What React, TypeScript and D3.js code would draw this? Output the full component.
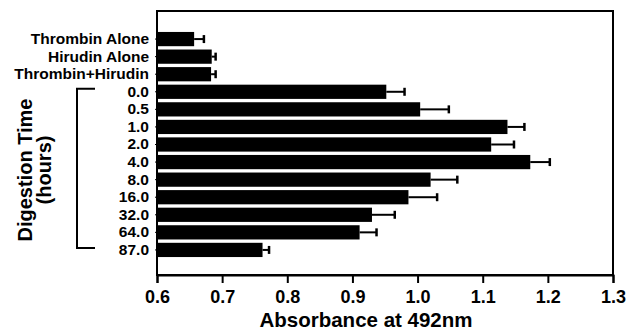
import React, { useEffect, useRef } from 'react';
import * as d3 from 'd3';

const categories = ['Thrombin Alone', 'Hirudin Alone', 'Thrombin+Hirudin', '0.0', '0.5', '1.0', '2.0', '4.0', '8.0', '16.0', '32.0', '64.0', '87.0'];
const absorbance = [0.657, 0.684, 0.683, 0.952, 1.004, 1.138, 1.113, 1.173, 1.020, 0.986, 0.930, 0.911, 0.762];
const errors = [0.015, 0.006, 0.007, 0.028, 0.044, 0.026, 0.035, 0.030, 0.041, 0.044, 0.035, 0.026, 0.010];
const xTicks = [0.6, 0.7, 0.8, 0.9, 1.0, 1.1, 1.2, 1.3];
const timeLabels = ['0.0', '87.0'];

const W = 634;
const H = 331;
const FONT = '"Liberation Sans", Arial, Helvetica, sans-serif';

export default function App() {
  const ref = useRef<SVGSVGElement>(null);

  useEffect(() => {
    const svg = d3.select(ref.current);
    svg.selectAll('*').remove();

    const left = 157, right = 613, top = 11, bottom = 275;

    const x = d3.scaleLinear().domain([0.6, 1.3]).range([left, right]);
    const y = d3.scaleBand<string>()
      .domain(categories)
      .range([30.2, 258.8])
      .paddingInner(0.19)
      .paddingOuter(0.1);

    // frame
    svg.append('rect')
      .attr('x', left).attr('y', top)
      .attr('width', right - left).attr('height', bottom - top)
      .attr('fill', 'none').attr('stroke', '#000').attr('stroke-width', 2);

    // bars
    svg.append('g').selectAll('rect')
      .data(categories)
      .join('rect')
      .attr('x', left)
      .attr('y', d => y(d)!)
      .attr('width', (d, i) => x(absorbance[i]) - left)
      .attr('height', y.bandwidth())
      .attr('fill', '#000');

    // error bars
    const eb = svg.append('g').attr('stroke', '#000');
    categories.forEach((c, i) => {
      const cy = y(c)! + y.bandwidth() / 2;
      const x1 = x(absorbance[i]);
      const x2 = x(absorbance[i] + errors[i]);
      eb.append('line').attr('x1', x1).attr('x2', x2).attr('y1', cy).attr('y2', cy).attr('stroke-width', 2);
      eb.append('line').attr('x1', x2).attr('x2', x2).attr('y1', cy - 4).attr('y2', cy + 4).attr('stroke-width', 2.5);
    });

    // x axis
    const xAxis = svg.append('g')
      .attr('transform', `translate(0,${bottom})`)
      .call(d3.axisBottom(x).tickValues(xTicks).tickSize(8).tickPadding(7).tickFormat(d3.format('.1f')));
    xAxis.select('.domain').attr('stroke-width', 2);
    xAxis.selectAll('.tick line').attr('stroke-width', 2);
    xAxis.selectAll('text')
      .attr('font-family', FONT).attr('font-weight', 'bold').attr('font-size', 18).attr('fill', '#000');

    // y axis
    const yAxis = svg.append('g')
      .attr('transform', `translate(${left},0)`)
      .call(d3.axisLeft(y).tickSize(2).tickPadding(6));
    yAxis.select('.domain').remove();
    yAxis.selectAll('text')
      .attr('font-family', FONT).attr('font-weight', 'bold').attr('font-size', 15.5).attr('fill', '#000');

    // x title
    svg.append('text')
      .attr('x', 366).attr('y', 327)
      .attr('text-anchor', 'middle')
      .attr('font-family', FONT).attr('font-weight', 'bold').attr('font-size', 20.5)
      .text('Absorbance at 492nm');

    // bracket for digestion time
    const bTop = y(timeLabels[0])! + y.bandwidth() / 2 - 3;
    const bBot = y(timeLabels[1])! + y.bandwidth() / 2 - 2;
    svg.append('path')
      .attr('d', `M95,${bTop}H77V${bBot}H95`)
      .attr('fill', 'none').attr('stroke', '#000').attr('stroke-width', 2);

    // y title
    const yt = svg.append('text')
      .attr('transform', 'translate(0,170) rotate(-90)')
      .attr('text-anchor', 'middle')
      .attr('font-family', FONT).attr('font-weight', 'bold').attr('font-size', 20);
    yt.append('tspan').attr('x', 0).attr('y', 32).text('Digestion Time');
    yt.append('tspan').attr('x', 0).attr('y', 51).text('(hours)');
  }, []);

  return (
    <svg ref={ref} width={W} height={H} style={{ position: 'absolute', left: 0, top: 0, background: '#fff' }}></svg>
  );
}
